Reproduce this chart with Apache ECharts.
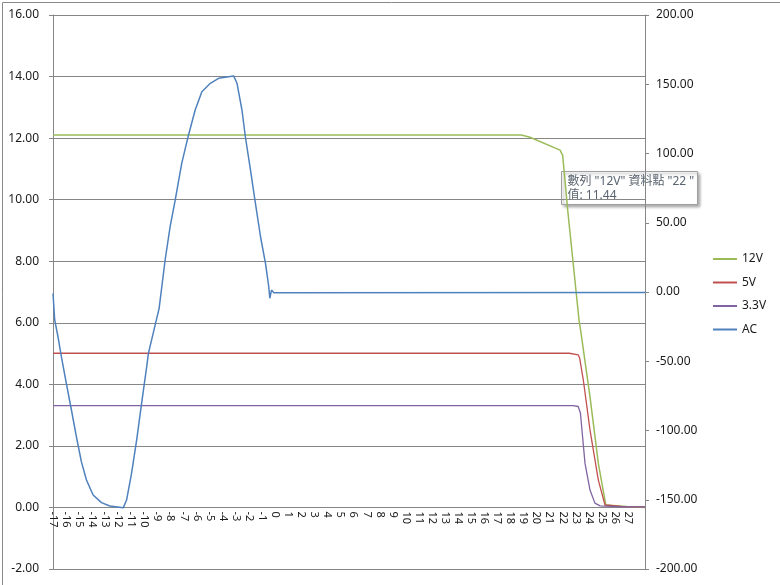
<!DOCTYPE html>
<html>
<head>
<meta charset="utf-8">
<script src="https://cdn.jsdelivr.net/npm/echarts@6/dist/echarts.min.js"></script>
<style>
  html, body { margin: 0; padding: 0; background: #fff; }
  #main { width: 780px; height: 585px; }
</style>
</head>
<body>
<div id="main"></div>
<script>
// 各路電壓 (左軸) 與 AC (右軸), 讀自原圖
var seriesNames = ['12V', '5V', '3.3V', 'AC'];

var v12 = [[-17, 12.10], [0, 12.10], [18.84, 12.10], [19.5, 12.03], [21.8, 11.61], [22, 11.44],
  [22.4, 9.6], [23.25, 6.09], [23.37, 5.77], [24.09, 3.60], [24.73, 1.43], [25.3, 0.08],
  [26.9, 0.03], [28.3, 0.0]];

var v5 = [[-17, 5.01], [0, 5.01], [22.5, 5.01], [23.19, 4.96], [23.3, 4.85], [23.58, 4.14],
  [24.09, 2.52], [24.73, 0.89], [25.24, 0.08], [26.5, 0.03], [28.3, 0.02]];

var v33 = [[-17, 3.31], [0, 3.31], [22.8, 3.31], [23.19, 3.28], [23.36, 3.06], [23.71, 1.43],
  [24.09, 0.57], [24.47, 0.14], [24.86, 0.05], [26.5, 0.02], [28.3, 0.02]];

var ac = [[-17, -1], [-16.87, -20.2], [-16.62, -32.3], [-16.36, -46.7], [-15.98, -65.9],
  [-15.59, -85.2], [-15.21, -104.5], [-14.83, -122.5], [-14.44, -135.7], [-13.93, -146.6],
  [-13.29, -152.1], [-12.65, -154.5], [-11.62, -155.7], [-11.37, -150.2], [-10.99, -130.9],
  [-10.6, -106.9], [-10.22, -80.4], [-9.83, -53.9], [-9.7, -44.3], [-8.88, -11.8],
  [-8.42, 23.1], [-8.04, 47.1], [-7.65, 66.4], [-7.15, 92.9], [-6.63, 113.4], [-6.12, 131.4],
  [-5.61, 144.6], [-4.96, 150.7], [-4.33, 154.3], [-3.18, 156], [-2.92, 150.7], [-2.54, 131.4],
  [-2.28, 112.1], [-1.89, 88.1], [-1.51, 64.0], [-1.12, 39.9], [-0.74, 20.7], [-0.49, 3.8],
  [-0.41, -4.5], [-0.28, 1.4], [-0.1, -0.5], [28.3, -0.3]];

var colors = ['#9BBB59', '#C0504D', '#8064A2', '#4F81BD'];
var tipLine1 = '數列 "12V" 資料點 "22 "';
var tipLine2 = '值: 11.44';

var font = '"Noto Sans", "Noto Sans CJK TC", sans-serif';
var myChart = echarts.init(document.getElementById('main'));

var option = {
  animation: false,
  textStyle: { fontFamily: font },
  grid: { left: 53, right: 135, top: 15, bottom: 16, containLabel: false },
  legend: {
    orient: 'vertical',
    left: 713,
    top: 253,
    padding: 0,
    icon: 'rect',
    itemWidth: 24,
    itemHeight: 2,
    itemGap: 11.5,
    data: seriesNames,
    textStyle: { fontSize: 12, color: '#1a1a1a', fontFamily: font }
  },
  xAxis: {
    type: 'value',
    min: -17,
    max: 28.3,
    interval: 1,
    // 橫軸畫在左軸 0.00 的位置
    offset: -61.5,
    axisLine: { onZero: false, lineStyle: { color: '#868686' } },
    axisTick: { show: false },
    splitLine: { show: false },
    axisLabel: {
      rotate: -90,
      margin: 4,
      fontSize: 11,
      color: '#1a1a1a',
      formatter: function (v) { return v > 27.5 ? '' : String(v); }
    }
  },
  yAxis: [
    {
      type: 'value',
      min: -2,
      max: 16,
      interval: 2,
      axisLine: { show: true, onZero: false, lineStyle: { color: '#868686' } },
      axisTick: { show: true, length: 4, lineStyle: { color: '#868686' } },
      splitLine: { lineStyle: { color: '#868686' } },
      axisLabel: {
        margin: 14,
        fontSize: 12,
        color: '#1a1a1a',
        formatter: function (v) { return v.toFixed(2); }
      }
    },
    {
      type: 'value',
      min: -200,
      max: 200,
      interval: 50,
      position: 'right',
      axisLine: { show: true, onZero: false, lineStyle: { color: '#868686' } },
      axisTick: { show: true, length: 4, lineStyle: { color: '#868686' } },
      splitLine: { show: false },
      axisLabel: {
        margin: 11,
        fontSize: 12,
        color: '#1a1a1a',
        formatter: function (v) { return v.toFixed(2); }
      }
    }
  ],
  series: [
    { name: '12V', type: 'line', data: v12, yAxisIndex: 0, showSymbol: false,
      lineStyle: { width: 1.5, color: colors[0] }, itemStyle: { color: colors[0] } },
    { name: '5V', type: 'line', data: v5, yAxisIndex: 0, showSymbol: false,
      lineStyle: { width: 1.3, color: colors[1] }, itemStyle: { color: colors[1] } },
    { name: '3.3V', type: 'line', data: v33, yAxisIndex: 0, showSymbol: false,
      lineStyle: { width: 1.3, color: colors[2] }, itemStyle: { color: colors[2] } },
    { name: 'AC', type: 'line', data: ac, yAxisIndex: 1, showSymbol: false,
      lineStyle: { width: 1.5, color: colors[3] }, itemStyle: { color: colors[3] } }
  ],
  graphic: [
    // 外框
    { type: 'rect', left: 0, top: 0, z: -1,
      shape: { x: 0.5, y: 0.5, width: 779, height: 584 },
      style: { fill: 'none', stroke: '#888', lineWidth: 1 } },
    // Excel 提示框
    { type: 'group', left: 561, top: 171, z: 100, children: [
      { type: 'rect', shape: { x: 0, y: 0, width: 136, height: 33 },
        style: { fill: '#fff', stroke: '#a0a0a0', lineWidth: 1,
          shadowBlur: 3, shadowOffsetX: 2, shadowOffsetY: 2, shadowColor: 'rgba(0,0,0,0.35)' } },
      { type: 'text', x: 6, y: 10,
        style: { text: tipLine1, fill: '#5a6470', fontSize: 12, fontFamily: font, verticalAlign: 'middle' } },
      { type: 'text', x: 6, y: 24,
        style: { text: tipLine2, fill: '#5a6470', fontSize: 12, fontFamily: font, verticalAlign: 'middle' } }
    ] }
  ]
};

myChart.setOption(option);
</script>
</body>
</html>
